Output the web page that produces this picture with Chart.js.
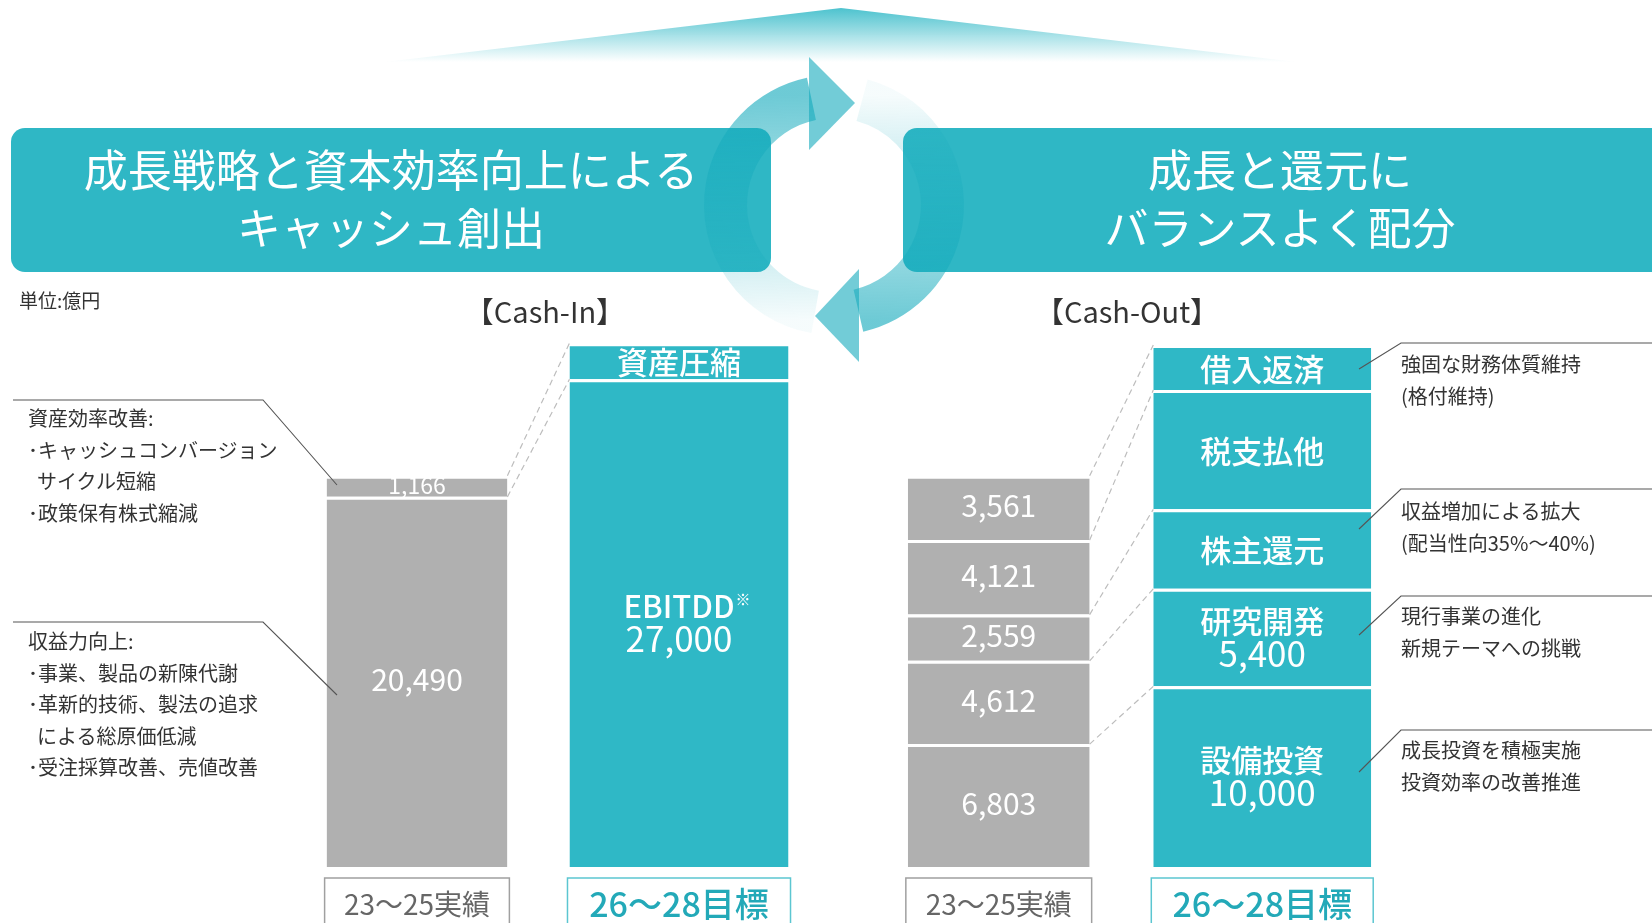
<!DOCTYPE html>
<html lang="ja">
<head>
<meta charset="utf-8">
<title>Cash-In / Cash-Out</title>
<script src="https://cdn.jsdelivr.net/npm/chart.js@4.4.1/dist/chart.umd.min.js"></script>
<style>
  html, body { margin: 0; padding: 0; background: #fff; }
  body { position: relative; width: 1652px; height: 923px; overflow: hidden;
         font-family: "Noto Sans CJK JP", "Noto Sans", sans-serif; color: #333; }
  .box { position: absolute; top: 128px; height: 144px; background: #2fb7c5; border-radius: 14px; }
  .head { position: absolute; top: 139px; color: #fff; font-size: 44px; line-height: 58px;
          text-align: center; white-space: nowrap; }
  .note { position: absolute; font-size: 20px; line-height: 31.6px; color: #333; white-space: nowrap; }
  .note .in { padding-left: 9px; }
  .title { position: absolute; top: 290px; font-size: 29px; line-height: 40px; color: #333;
           white-space: nowrap; transform: translateX(-50%); }
  canvas { position: absolute; }
</style>
</head>
<body>
<div class="box" style="left:11px; width:760px;"></div>
<div class="box" style="left:903px; width:800px;"></div>
<canvas id="deco" width="1652" height="923" style="left:0; top:0;"></canvas>
<div class="head" style="left:11px; width:760px;">成長戦略と資本効率向上による<br>キャッシュ創出</div>
<div class="head" style="left:903px; width:754px;">成長と還元に<br>バランスよく配分</div>

<div class="note" style="left:19px; top:284px; font-size:19px;">単位:億円</div>
<div class="title" style="left:545px;">【Cash-In】</div>
<div class="title" style="left:1127px;">【Cash-Out】</div>

<div class="note" style="left:28px; top:402px;">資産効率改善:<br>･キャッシュコンバージョン<br><span class="in">サイクル短縮</span><br>･政策保有株式縮減</div>
<div class="note" style="left:28px; top:625px;">収益力向上:<br>･事業、製品の新陳代謝<br>･革新的技術、製法の追求<br><span class="in">による総原価低減</span><br>･受注採算改善、売値改善</div>

<div class="note" style="left:1401px; top:348px;">強固な財務体質維持<br>(格付維持)</div>
<div class="note" style="left:1401px; top:495px;">収益増加による拡大<br>(配当性向35%～40%)</div>
<div class="note" style="left:1401px; top:600px;">現行事業の進化<br>新規テーマへの挑戦</div>
<div class="note" style="left:1401px; top:734px;">成長投資を積極実施<br>投資効率の改善推進</div>

<canvas id="cashIn" width="524" height="616" style="left:286px; top:307px;"></canvas>
<canvas id="cashOut" width="527" height="616" style="left:867px; top:307px;"></canvas>
<canvas id="leaders" width="1652" height="923" style="left:0; top:0;"></canvas>

<script>
// 単位:億円, segments listed bottom → top
const cashInCategories = ['23～25実績', '26～28目標'];
const cashInActual = [20490, 1166];
const cashInTarget = [27000, 2000];
const cashInTargetNames = ['EBITDD※', '資産圧縮'];
const cashInTargetShowValue = [true, false];

const cashOutCategories = ['23～25実績', '26～28目標'];
const cashOutActual = [6803, 4612, 2559, 4121, 3561];
const cashOutTarget = [10000, 5400, 4400, 6600, 2500];
const cashOutTargetNames = ['設備投資', '研究開発', '株主還元', '税支払他', '借入返済'];
const cashOutTargetShowValue = [true, true, false, false, false];

const TEAL = '#2fb8c6';
const GRAY = '#b0b0b0';
const FONT = '"Noto Sans CJK JP", "Noto Sans", sans-serif';

Chart.defaults.font.family = FONT;

function fmt(v) {
  return v.toLocaleString('en-US');
}

function buildDatasets(actual, target, names, showValue, wActual, wTarget) {
  const ds = [];
  actual.forEach((v, i) => ds.push({
    data: [v, null], backgroundColor: GRAY, barPercentage: wActual,
    role: 'actual', seg: i
  }));
  target.forEach((v, i) => ds.push({
    data: [null, v], backgroundColor: TEAL, barPercentage: wTarget,
    role: 'target', seg: i, name: names[i], showValue: showValue[i]
  }));
  ds.forEach(d => {
    d.categoryPercentage = 1;
    d.borderColor = '#fff';
    d.borderWidth = { top: 3, right: 0, bottom: 0, left: 0 };
    d.borderSkipped = 'start';
    d.inflateAmount = 0;
  });
  return ds;
}

function barOf(chart, d) {
  const ds = chart.data.datasets[d];
  const idx = ds.data.findIndex(v => v != null);
  return chart.getDatasetMeta(d).data[idx].getProps(['x', 'y', 'base', 'width'], true);
}

// draw text with its ink centred vertically on cy
function centerText(ctx, txt, x, cy) {
  ctx.textBaseline = 'alphabetic';
  const m = ctx.measureText(txt);
  const base = cy + (m.actualBoundingBoxAscent - m.actualBoundingBoxDescent) / 2;
  ctx.fillText(txt, x, base);
  return { width: m.width, top: base - m.actualBoundingBoxAscent };
}

const connectors = {
  id: 'connectors',
  afterDatasetsDraw(chart) {
    const ctx = chart.ctx;
    const sets = chart.data.datasets;
    ctx.save();
    ctx.strokeStyle = '#bdbdbd';
    ctx.lineWidth = 1.2;
    ctx.setLineDash([6, 4]);
    sets.forEach((ds, d) => {
      if (ds.role !== 'actual') return;
      const t = sets.findIndex(o => o.role === 'target' && o.seg === ds.seg);
      if (t < 0) return;
      const a = barOf(chart, d), b = barOf(chart, t);
      ctx.beginPath();
      ctx.moveTo(a.x + a.width / 2, a.y);
      ctx.lineTo(b.x - b.width / 2, b.y);
      ctx.stroke();
    });
    ctx.restore();
  }
};

const barLabels = {
  id: 'barLabels',
  afterDatasetsDraw(chart) {
    const ctx = chart.ctx;
    ctx.save();
    ctx.fillStyle = '#fff';
    ctx.textAlign = 'center';
    chart.data.datasets.forEach((ds, d) => {
      const b = barOf(chart, d);
      const thin = b.base - b.y < 34;
      const cy = (b.y + 3 + b.base) / 2;
      const v = ds.data.find(x => x != null);
      if (ds.role === 'actual') {
        ctx.font = '400 ' + (thin ? 23 : 30) + 'px ' + FONT;
        centerText(ctx, fmt(v), b.x, cy);
        return;
      }
      const lines = [ds.name];
      if (ds.showValue) lines.push(fmt(v));
      const gap = 36;
      lines.forEach((txt, k) => {
        const ly = cy + (k - (lines.length - 1) / 2) * gap;
        if (k === 0) {
          ctx.font = '500 31px ' + FONT;
          if (txt.endsWith('※')) {
            const r = centerText(ctx, txt.slice(0, -1), b.x, ly);
            ctx.font = '500 15px ' + FONT;
            ctx.textAlign = 'left';
            ctx.textBaseline = 'top';
            ctx.fillText('※', b.x + r.width / 2 + 1, r.top - 3);
            ctx.textAlign = 'center';
          } else {
            centerText(ctx, txt, b.x, ly);
          }
        } else {
          ctx.font = '400 35px ' + FONT;
          centerText(ctx, txt, b.x, ly);
        }
      });
    });
    ctx.restore();
  }
};

const categoryBoxes = {
  id: 'categoryBoxes',
  afterDraw(chart) {
    const ctx = chart.ctx;
    const x = chart.scales.x;
    const bottom = chart.chartArea.bottom;
    chart.data.labels.forEach((label, i) => {
      let w = 0;
      chart.data.datasets.forEach((ds, d) => {
        if (ds.data[i] != null) w = chart.getDatasetMeta(d).data[i].width;
      });
      const cx = x.getPixelForValue(i);
      const target = i === 1;
      ctx.save();
      ctx.strokeStyle = target ? '#5cc6d1' : '#a0a0a0';
      ctx.lineWidth = 1.5;
      ctx.strokeRect(cx - w / 2 - 2, bottom + 11, w + 4, 80);
      ctx.fillStyle = target ? '#23a9b8' : '#666';
      ctx.font = (target ? '500 34px ' : '400 28px ') + FONT;
      ctx.textAlign = 'center';
      ctx.textBaseline = 'middle';
      ctx.fillText(label, cx, bottom + 37);
      ctx.restore();
    });
  }
};

function makeChart(id, labels, datasets, max) {
  return new Chart(document.getElementById(id), {
    type: 'bar',
    data: { labels: labels, datasets: datasets },
    options: {
      responsive: false,
      animation: false,
      devicePixelRatio: 1,
      layout: { padding: { top: 0, right: 0, bottom: 56, left: 0 } },
      plugins: { legend: { display: false }, tooltip: { enabled: false } },
      scales: {
        x: { stacked: true, display: false },
        y: { stacked: true, display: false, min: 0, max: max }
      }
    },
    plugins: [connectors, barLabels, categoryBoxes]
  });
}

makeChart('cashIn', cashInCategories,
  buildDatasets(cashInActual, cashInTarget, cashInTargetNames, cashInTargetShowValue, 0.69, 0.836), 31000);
makeChart('cashOut', cashOutCategories,
  buildDatasets(cashOutActual, cashOutTarget, cashOutTargetNames, cashOutTargetShowValue, 0.69, 0.827), 31000);

// decoration: roof + circular arrows
const deco = document.getElementById('deco').getContext('2d');
const roof = deco.createLinearGradient(0, 8, 0, 62);
roof.addColorStop(0, 'rgba(46,184,198,0.85)');
roof.addColorStop(1, 'rgba(46,184,198,0)');
deco.fillStyle = roof;
deco.beginPath();
deco.moveTo(841, 8);
deco.lineTo(1296, 62);
deco.lineTo(385, 62);
deco.closePath();
deco.fill();

const cx = 834, cy = 205, rIn = 87, rOut = 130;
const rad = a => a * Math.PI / 180;

function arcPiece(a0, a1, from, to) {
  const g = deco.createLinearGradient(from[0], from[1], to[0], to[1]);
  g.addColorStop(0, 'rgba(20,170,188,0.04)');
  g.addColorStop(1, 'rgba(20,170,188,0.62)');
  deco.fillStyle = g;
  deco.beginPath();
  deco.arc(cx, cy, rOut, rad(a0), rad(a1));
  deco.arc(cx, cy, rIn, rad(a1), rad(a0), true);
  deco.closePath();
  deco.fill();
}

function head(pts) {
  deco.fillStyle = 'rgba(20,170,188,0.6)';
  deco.beginPath();
  deco.moveTo(pts[0][0], pts[0][1]);
  deco.lineTo(pts[1][0], pts[1][1]);
  deco.lineTo(pts[2][0], pts[2][1]);
  deco.closePath();
  deco.fill();
}

arcPiece(100, 258, [815, 320], [811, 95]);
arcPiece(-75, 77, [862, 95], [859, 320]);
head([[809, 57], [855, 103], [809, 150]]);
head([[859, 269], [815, 316], [859, 362]]);

// leader lines for annotations
const lead = document.getElementById('leaders').getContext('2d');
lead.strokeStyle = '#555';
lead.lineWidth = 1.1;
[
  [[13, 400], [263, 400], [337, 485]],
  [[13, 622], [263, 622], [337, 695]],
  [[1359, 369], [1401, 343], [1652, 343]],
  [[1359, 529], [1401, 489], [1652, 489]],
  [[1359, 635], [1401, 596], [1652, 596]],
  [[1359, 772], [1401, 730], [1652, 730]]
].forEach(p => {
  lead.beginPath();
  lead.moveTo(p[0][0], p[0][1]);
  lead.lineTo(p[1][0], p[1][1]);
  lead.lineTo(p[2][0], p[2][1]);
  lead.stroke();
});
</script>
</body>
</html>
